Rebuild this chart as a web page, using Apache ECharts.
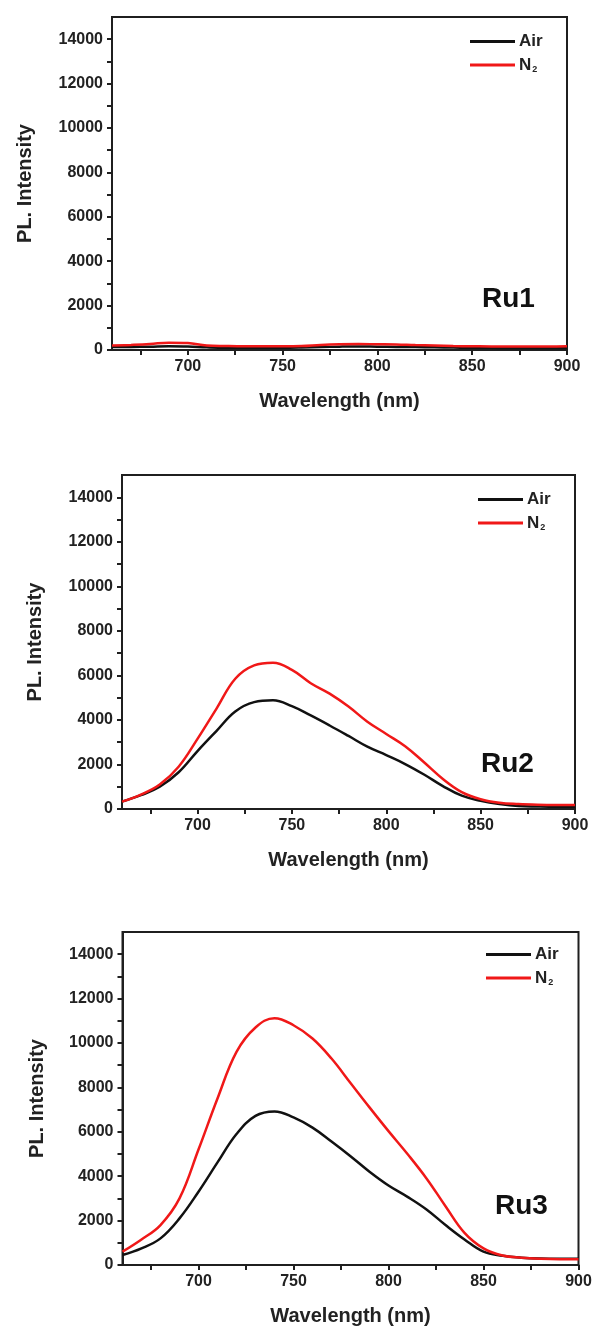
<!DOCTYPE html>
<html><head><meta charset="utf-8">
<script src="https://cdn.jsdelivr.net/npm/echarts@6/dist/echarts.min.js"></script>
<style>html,body{margin:0;padding:0;background:#fff}#c{width:596px;height:1331px}</style>
</head><body><div id="c"></div>
<script>
// Wavelength (nm) sampling
const wavelengths = [660,670,680,690,700,710,720,730,740,750,760,770,780,790,800,810,820,830,840,850,860,870,880,890,900];
// Ru1
const ru1Air = [130,140,150,170,160,120,100,100,100,100,110,130,150,160,150,140,130,120,110,100,100,90,90,90,90];
const ru1N2  = [200,230,270,330,310,200,180,170,170,170,180,230,260,270,260,250,220,200,180,170,160,160,160,160,170];
// Ru2
const ru2Air = [330,620,1000,1650,2600,3500,4380,4800,4880,4620,4200,3750,3280,2800,2420,2020,1550,1030,600,370,220,130,110,100,100];
const ru2N2  = [330,650,1100,1900,3150,4500,5850,6450,6570,6250,5650,5180,4600,3920,3370,2820,2100,1350,760,440,280,220,190,180,180];
// Ru3
const ru3Air = [450,750,1200,2100,3300,4620,5900,6720,6920,6650,6190,5560,4900,4200,3580,3070,2500,1800,1150,600,420,330,290,280,280];
const ru3N2  = [600,1150,1800,3000,5200,7500,9600,10700,11120,10800,10200,9300,8200,7100,6030,5000,3900,2650,1450,750,430,330,280,260,260];
// Axis ticks / labels
const xTickValues = [675,700,725,750,775,800,825,850,875,900];
const xLabelValues = [700,750,800,850,900];
const yTickValues = [0,1000,2000,3000,4000,5000,6000,7000,8000,9000,10000,11000,12000,13000,14000];
const yLabelValues = [0,2000,4000,6000,8000,10000,12000,14000];
const panelLabels = ['Ru1','Ru2','Ru3'];
const seriesNames = ['Air','N2'];

const panels = [
  {air: ru1Air, n2: ru1N2, grid: {left: 112, top: 17, width: 455, height: 333}, legend: {left: 470, top: 33}, label: {x: 482, y: 300}, yGap: 77},
  {air: ru2Air, n2: ru2N2, grid: {left: 122, top: 475, width: 453, height: 334}, legend: {left: 478, top: 491}, label: {x: 481, y: 765}, yGap: 77},
  {air: ru3Air, n2: ru3N2, grid: {left: 122.5, top: 932, width: 456, height: 333}, legend: {left: 486, top: 946}, label: {x: 495, y: 1207}, yGap: 75}
];

const ink = '#1f1f1f';
const labelFont = {color: '#222', fontSize: 16, fontWeight: 'bold', fontFamily: 'Liberation Sans'};
const titleFont = {color: '#222', fontSize: 20, fontWeight: 'bold', fontFamily: 'Liberation Sans'};
const toPairs = arr => wavelengths.map((w, i) => [w, arr[i]]);

const option = {
  animation: false,
  backgroundColor: '#fff',
  grid: [], xAxis: [], yAxis: [], series: [], legend: [], graphic: []
};

panels.forEach((p, i) => {
  option.grid.push(Object.assign({show: true, borderColor: ink, borderWidth: 2, backgroundColor: 'transparent'}, p.grid));
  option.xAxis.push({
    type: 'value', gridIndex: i, min: 660, max: 900,
    name: 'Wavelength (nm)', nameLocation: 'middle', nameGap: 41,
    nameTextStyle: titleFont,
    axisLine: {show: true, lineStyle: {color: ink, width: 2}},
    axisTick: {show: true, length: 5, lineStyle: {color: ink, width: 2}, customValues: xTickValues},
    axisLabel: Object.assign({margin: 9, customValues: xLabelValues, formatter: v => String(v)}, labelFont),
    splitLine: {show: false}
  });
  option.yAxis.push({
    type: 'value', gridIndex: i, min: 0, max: 15000,
    name: 'PL. Intensity', nameLocation: 'middle', nameGap: p.yGap,
    nameTextStyle: titleFont,
    axisLine: {show: true, lineStyle: {color: ink, width: 2}},
    axisTick: {show: true, length: 5, lineStyle: {color: ink, width: 2}, customValues: yTickValues},
    axisLabel: Object.assign({margin: 9, customValues: yLabelValues, formatter: v => String(v)}, labelFont),
    splitLine: {show: false}
  });
  option.series.push({
    name: seriesNames[0], type: 'line', xAxisIndex: i, yAxisIndex: i,
    data: toPairs(p.air), symbol: 'none', smooth: 0.4,
    lineStyle: {color: '#111', width: 2.5}, itemStyle: {color: '#111'}
  });
  option.series.push({
    name: seriesNames[1], type: 'line', xAxisIndex: i, yAxisIndex: i,
    data: toPairs(p.n2), symbol: 'none', smooth: 0.4,
    lineStyle: {color: '#f01818', width: 2.5}, itemStyle: {color: '#f01818'}
  });
  option.legend.push({
    data: seriesNames, orient: 'vertical', left: p.legend.left, top: p.legend.top,
    icon: 'rect', itemWidth: 45, itemHeight: 3, itemGap: 5.5, padding: 0,
    selectedMode: false,
    formatter: n => n === 'N2' ? '{b|N}{s|2}' : '{b|' + n + '}',
    textStyle: {
      padding: [0, 0, 0, -1],
      rich: {
        b: {fontSize: 17, fontWeight: 'bold', color: '#222', fontFamily: 'Liberation Sans', lineHeight: 17},
        s: {fontSize: 9, fontWeight: 'bold', color: '#222', fontFamily: 'Liberation Sans', padding: [10, 0, 0, 1], lineHeight: 17}
      }
    }
  });
  option.graphic.push({
    type: 'text', left: p.label.x, top: p.label.y - 15,
    style: {text: panelLabels[i], fill: '#111', font: 'bold 28px "Liberation Sans"'}
  });
});

const chart = echarts.init(document.getElementById('c'), null, {renderer: 'canvas'});
chart.setOption(option);
</script>
</body></html>
